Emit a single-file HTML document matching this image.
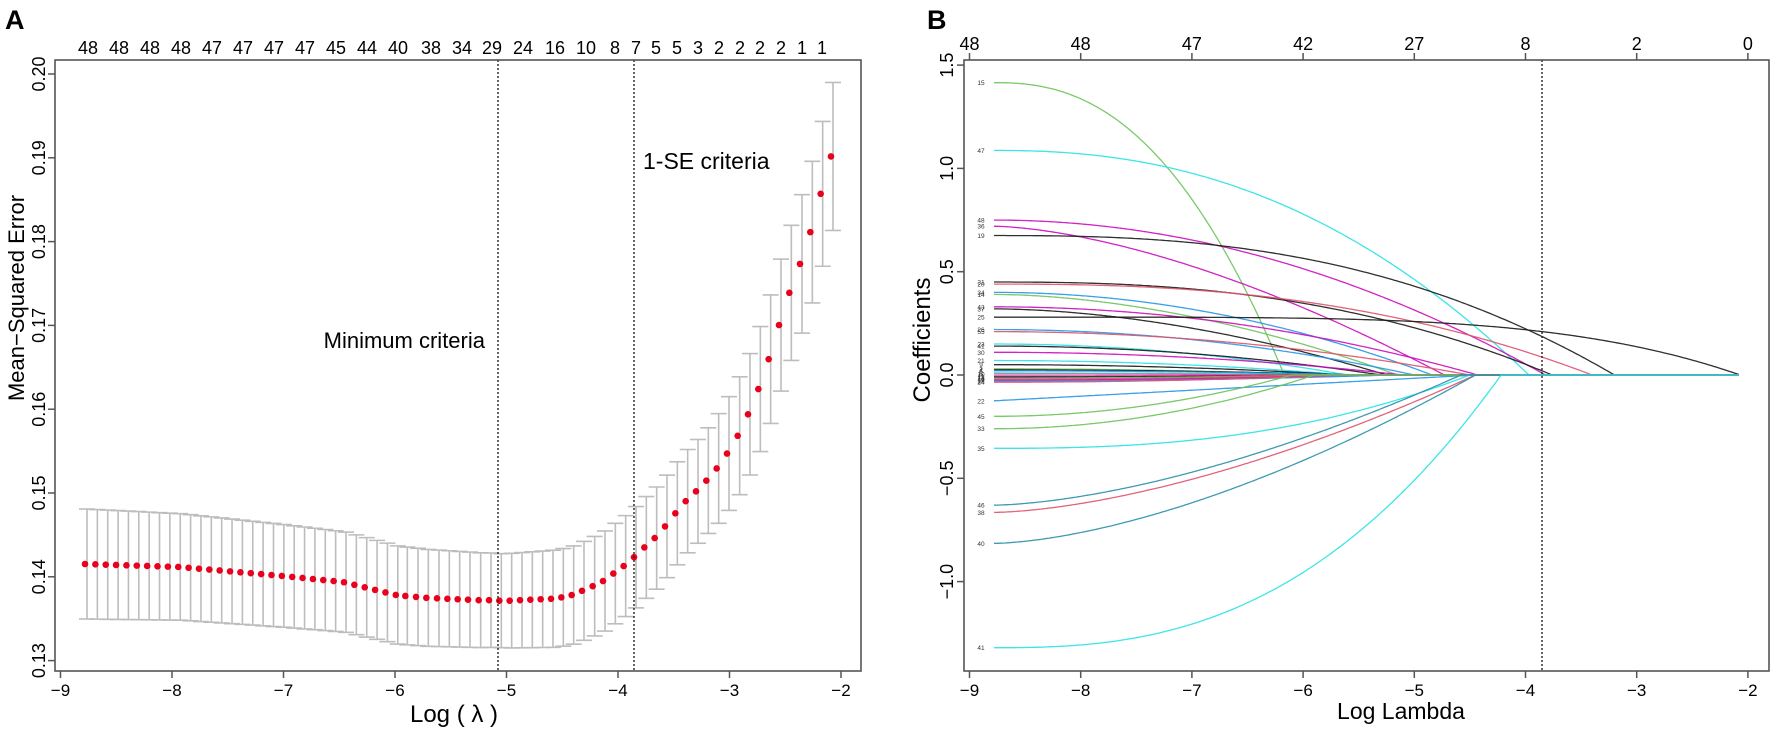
<!DOCTYPE html>
<html><head><meta charset="utf-8"><style>
html,body{margin:0;padding:0;background:#fff;}
svg{display:block;font-family:"Liberation Sans",Arial,sans-serif;}
</style></head><body>
<svg id="s" width="1772" height="733" viewBox="0 0 1772 733" xmlns="http://www.w3.org/2000/svg">
<rect width="1772" height="733" fill="#fff"/>
<text x="5" y="29" font-size="27" font-weight="bold">A</text>
<text x="927" y="29" font-size="27" font-weight="bold">B</text>
<g id="A"></g>
<g id="B"></g>
</svg>
<script>
(function(){
var NS="http://www.w3.org/2000/svg";
function el(p,t,a,txt){var e=document.createElementNS(NS,t);for(var k in a)e.setAttribute(k,a[k]);if(txt!==undefined)e.textContent=txt;p.appendChild(e);return e;}
function interp(pts,x){if(x<=pts[0][0])return pts[0][1];for(var i=1;i<pts.length;i++){if(x<=pts[i][0]){var a=pts[i-1],b=pts[i];return a[1]+(b[1]-a[1])*(x-a[0])/(b[0]-a[0]);}}return pts[pts.length-1][1];}
var A=document.getElementById('A');
function xA(l){return 60.5+(l+9)*111.5;}
function yA(v){return 74+(0.2-v)*8380;}
var dots=[];
var first=[[85,564],[180,567],[283,576],[343,582],[396,595]];
for(var i=0;i<31;i++){var x=85+i*10.36;dots.push([x,interp(first,x)]);}
var zx=[16,48,79,111,142,173,204,236,267,298,329,360,391,422,453,484,515,546,578,609,640,671,702,733,764,795,826,857,888,919,950,981,1013,1044,1075,1106,1137,1168,1200,1231,1262,1293];
var zy=[1276,1278,1280,1281,1282,1283,1284,1285,1285,1286,1286,1285,1284,1283,1282,1279,1274,1265,1255,1244,1228,1212,1193,1172,1152,1127,1099,1073,1052,1029,1003,971,933,887,833,769,696,627,565,497,415,335];
for(var i=0;i<zx.length;i++)dots.push([zx[i]/3+400,zy[i]/2.141]);
var hw=[[85,55],[300,51],[499,47],[600,50],[702,52],[738,59],[779,66],[831,74]];
dots.forEach(function(d){var h=interp(hw,d[0]);var x=d[0]+2;
el(A,'line',{x1:x,y1:d[1]-h,x2:x,y2:d[1]+h,stroke:'#bdbdbd','stroke-width':1.6});
el(A,'line',{x1:x-8,y1:d[1]-h,x2:x+8,y2:d[1]-h,stroke:'#bdbdbd','stroke-width':1.6});
el(A,'line',{x1:x-8,y1:d[1]+h,x2:x+8,y2:d[1]+h,stroke:'#bdbdbd','stroke-width':1.6});});
dots.forEach(function(d){el(A,'circle',{cx:d[0],cy:d[1],r:3.3,fill:'#e8001c'});});
[498,634].forEach(function(x){el(A,'line',{x1:x,y1:60,x2:x,y2:671,stroke:'#222','stroke-width':1.4,'stroke-dasharray':'2,2'});});
el(A,'rect',{x:55,y:60,width:806,height:611,fill:'none',stroke:'#555','stroke-width':1.6});
for(var k=-9;k<=-2;k++){var x=xA(k);el(A,'line',{x1:x,y1:671,x2:x,y2:678,stroke:'#555','stroke-width':1.5});el(A,'text',{x:x,y:696,'font-size':17,'text-anchor':'middle'},'\u2212'+(-k));}
var yt=['0.13','0.14','0.15','0.16','0.17','0.18','0.19','0.20'];
yt.forEach(function(t){var y=yA(parseFloat(t));el(A,'line',{x1:55,y1:y,x2:48,y2:y,stroke:'#555','stroke-width':1.5});el(A,'text',{x:0,y:0,'font-size':18,'text-anchor':'middle',transform:'translate(45,'+y+') rotate(-90)'},t);});
var tl=['48','48','48','48','47','47','47','47','45','44','40','38','34','29','24','16','10','8','7','5','5','3','2','2','2','2','1','1'];
var tx=[88,119,150,181,212,243,274,305,336,367,398,431,462,492,523,555,586,615,636,656,677,698,719,740,760,781,802,822];
tl.forEach(function(t,i){el(A,'text',{x:tx[i],y:54,'font-size':18,'text-anchor':'middle'},t);});
el(A,'text',{x:0,y:0,'font-size':22,'text-anchor':'middle',transform:'translate(24,298) rotate(-90)'},'Mean\u2212Squared Error');
el(A,'text',{x:454,y:722,'font-size':24,'text-anchor':'middle'},'Log ( \u03bb )');
el(A,'text',{x:485,y:348,'font-size':22,'text-anchor':'end'},'Minimum criteria');
el(A,'text',{x:643,y:169,'font-size':23},'1-SE criteria');
var B=document.getElementById('B');
function xB(l){return 969.5+(l+9)*111.2;}
function yB(v){return 375-v*206.6;}
var K='#1a1a1a',P='#DF536B',G='#6cc35a',Bl='#2297E6',C='#28E2E5',M='#CD0BBC',T='#2a8fa8';
var curves=[['15',1.415,G,-6.17,2.4],['47',1.087,C,-3.97,2.3],['48',0.75,M,-3.82,2.0],['36',0.72,M,-4.73,1.6],['19',0.675,K,-3.2,2.6],
['31',0.45,K,-3.76,2.5],['20',0.44,P,-3.4,2.5],['34',0.40,Bl,-4.84,2],['14',0.39,G,-5.15,1.8],['43',0.33,M,-4.43,2],['37',0.32,K,-5.25,1.8],
['25',0.28,K,-2.07,4.5],['26',0.22,Bl,-5.0,2],['55',0.21,P,-4.5,2],['23',0.15,C,-5.6,2],['41',0.14,K,-5.3,2],['30',0.11,M,-5.1,2],['21',0.07,C,-5.6,2],['9',0.05,K,-5.6,2],
['2',0.03,G,-5.8,2],['4',0.025,K,-5.5,2],['6',0.02,Bl,-5.4,2],['8',0.01,C,-5.7,2],['10',0.005,P,-5.5,2],['11',-0.005,M,-5.6,2],['12',-0.01,K,-5.4,2],['13',-0.015,G,-5.8,2],['16',-0.02,P,-5.5,2],['17',-0.025,M,-5.4,2],['18',-0.03,Bl,-5.2,2],['24',-0.035,P,-5.6,2],
['22',-0.125,Bl,-4.45,1],['45',-0.20,G,-6.1,2],['33',-0.26,G,-5.9,2],['35',-0.355,C,-4.5,2.5],['46',-0.63,T,-4.58,1.6],['38',-0.665,P,-4.45,1.6],['40',-0.815,T,-4.45,1.6],['41',-1.32,C,-4.22,2.6]];
var t0=-8.78,tEnd=-2.08;
curves.forEach(function(c){var d='';for(var t=t0;t<=tEnd+0.001;t+=0.02){var v=0;if(t<c[3]){var f=(t-t0)/(c[3]-t0);v=c[1]*(1-Math.pow(f,c[4]));}d+=(d?'L':'M')+xB(t).toFixed(1)+','+yB(v).toFixed(1);}
el(B,'path',{d:d,fill:'none',stroke:c[2],'stroke-width':1.3,opacity:0.9});
el(B,'text',{x:981,y:yB(c[1])+2.5,'font-size':6.5,'text-anchor':'middle',fill:'#333'},c[0]);});
el(B,'line',{x1:1542,y1:60,x2:1542,y2:671,stroke:'#222','stroke-width':1.4,'stroke-dasharray':'2,2'});
el(B,'rect',{x:964,y:60,width:805,height:611,fill:'none',stroke:'#555','stroke-width':1.6});
for(var k=-9;k<=-2;k++){var x=xB(k);el(B,'line',{x1:x,y1:671,x2:x,y2:678,stroke:'#555','stroke-width':1.5});el(B,'text',{x:x,y:696,'font-size':17,'text-anchor':'middle'},'\u2212'+(-k));}
var topL=['48','48','47','42','27','8','2','0'];
topL.forEach(function(t,i){var x=xB(-9+i);el(B,'line',{x1:x,y1:60,x2:x,y2:53,stroke:'#555','stroke-width':1.5});el(B,'text',{x:x,y:50,'font-size':18,'text-anchor':'middle'},t);});
['1.5','1.0','0.5','0.0','\u22120.5','\u22121.0'].forEach(function(t,i){var v=1.5-0.5*i;var y=yB(v);el(B,'line',{x1:964,y1:y,x2:957,y2:y,stroke:'#555','stroke-width':1.5});el(B,'text',{x:0,y:0,'font-size':18,'text-anchor':'middle',transform:'translate(953,'+y+') rotate(-90)'},t);});
el(B,'text',{x:0,y:0,'font-size':24,'text-anchor':'middle',transform:'translate(930,340) rotate(-90)'},'Coefficients');
el(B,'text',{x:1401,y:719,'font-size':23,'text-anchor':'middle'},'Log Lambda');
})();
</script>
</body></html>
